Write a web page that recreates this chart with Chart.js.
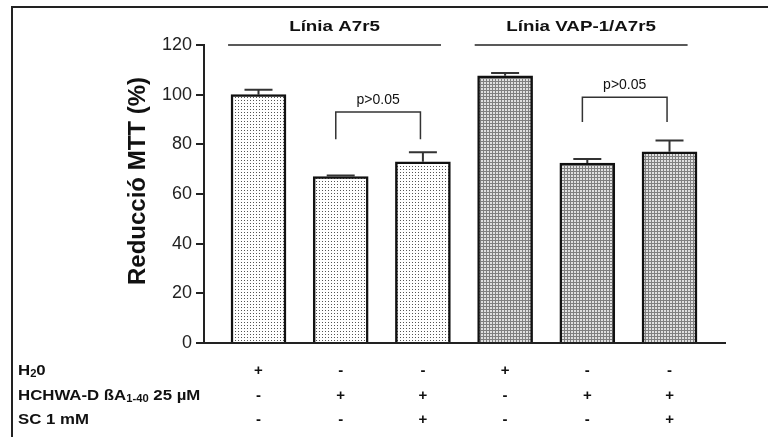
<!DOCTYPE html>
<html lang="ca">
<head>
<meta charset="UTF-8">
<title>Reducció MTT</title>
<script src="https://cdn.jsdelivr.net/npm/chart.js@4.4.1/dist/chart.umd.min.js"></script>
<style>
  html, body { margin: 0; padding: 0; background: #fff; }
  #wrap { width: 768px; height: 437px; }
</style>
</head>
<body>
<div id="wrap"><canvas id="mtt"></canvas></div>
<script>
  // dades llegides del gràfic
  const groups = ['Línia A7r5', 'Línia VAP-1/A7r5'];
  const groupBars = [[0, 2], [3, 5]];
  const values = [100, 67, 73, 107.6, 72.5, 77];
  const errors = [2, 0.4, 3.8, 1.1, 1.6, 4.5];
  const rowH2O = ['+', '-', '-', '+', '-', '-'];
  const rowABeta = ['-', '+', '+', '-', '+', '+'];
  const rowSC = ['-', '-', '+', '-', '-', '+'];
  const yTicks = [0, 20, 40, 60, 80, 100, 120];
  const brackets = [
    { from: 1, to: 2, top: 93, leg: 82, text: 'p>0.05' },
    { from: 4, to: 5, top: 99, leg: 89, text: 'p>0.05' }
  ];

  const FONT = '"Liberation Sans", Arial, sans-serif';
  const canvas = document.getElementById('mtt');
  const ctx = canvas.getContext('2d');

  function makePattern(kind) {
    const c = document.createElement('canvas');
    c.width = 3; c.height = 3;
    const g = c.getContext('2d');
    if (kind === 'dots') {
      g.fillStyle = '#fff'; g.fillRect(0, 0, 3, 3);
      g.fillStyle = '#555'; g.fillRect(1, 1, 1, 1);
    } else {
      g.fillStyle = '#e0e0e0'; g.fillRect(0, 0, 3, 3);
      g.fillStyle = '#808080'; g.fillRect(0, 0, 3, 1); g.fillRect(0, 0, 1, 3);
    }
    return ctx.createPattern(c, 'repeat');
  }
  const dots = makePattern('dots');
  const grid = makePattern('grid');

  function drawParts(c, parts, x, y, sx) {
    c.save();
    c.translate(x, y);
    c.scale(sx, 1);
    let cx = 0;
    parts.forEach(p => {
      c.font = p.font;
      c.fillText(p.t, cx, p.dy || 0);
      cx += c.measureText(p.t).width;
    });
    c.restore();
  }

  const extras = {
    id: 'extras',
    beforeDraw(chart) {
      const c = chart.ctx;
      c.save();
      c.strokeStyle = '#222';
      c.lineWidth = 2;
      c.beginPath();
      c.moveTo(12, 437); c.lineTo(12, 7); c.lineTo(768, 7);
      c.stroke();
      c.restore();
    },
    afterDraw(chart) {
      const c = chart.ctx;
      const xs = chart.scales.x, ys = chart.scales.y;
      c.save();
      c.fillStyle = '#111';
      c.strokeStyle = '#333';
      c.textBaseline = 'middle';

      // error bars
      c.lineWidth = 2;
      values.forEach((v, i) => {
        const x = xs.getPixelForValue(i + 1);
        const yb = ys.getPixelForValue(v);
        const yt = ys.getPixelForValue(v + errors[i]);
        c.beginPath();
        c.moveTo(x, yb); c.lineTo(x, yt);
        c.moveTo(x - 14, yt); c.lineTo(x + 14, yt);
        c.stroke();
      });

      // brackets
      c.lineWidth = 1.5;
      c.textAlign = 'center';
      brackets.forEach(b => {
        const x1 = xs.getPixelForValue(b.from + 1 - 0.06);
        const x2 = xs.getPixelForValue(b.to + 1 - 0.03);
        const yt = ys.getPixelForValue(b.top);
        const yl = ys.getPixelForValue(b.leg);
        c.beginPath();
        c.moveTo(x1, yl); c.lineTo(x1, yt); c.lineTo(x2, yt); c.lineTo(x2, yl);
        c.stroke();
        c.font = '14px ' + FONT;
        c.fillText(b.text, (x1 + x2) / 2, yt - 12);
      });

      // group headers
      c.lineWidth = 1.5;
      c.strokeStyle = '#222';
      groups.forEach((g, k) => {
        const a = xs.getPixelForValue(groupBars[k][0] + 1 - 0.37);
        const b = xs.getPixelForValue(groupBars[k][1] + 1 + 0.22);
        const y = ys.getPixelForValue(120);
        c.beginPath(); c.moveTo(a, y); c.lineTo(b, y); c.stroke();
        c.save();
        c.translate((a + b) / 2, 27);
        c.scale(1.25, 1);
        c.font = 'bold 15px ' + FONT;
        c.fillText(g, 0, 0);
        c.restore();
      });

      // y title
      c.save();
      c.translate(138, 181);
      c.rotate(-Math.PI / 2);
      c.font = 'bold 24px ' + FONT;
      c.fillText('Reducció MTT (%)', 0, 0);
      c.restore();

      // condition table
      c.textAlign = 'left';
      const B = 'bold 15px ' + FONT, S = 'bold 10px ' + FONT;
      drawParts(c, [{ t: 'H', font: B }, { t: '2', font: S, dy: 3 }, { t: '0', font: B }], 18, 371, 1.12);
      drawParts(c, [{ t: 'HCHWA-D ßA', font: B }, { t: '1-40', font: S, dy: 3 }, { t: ' 25 µM', font: B }], 18, 396, 1.12);
      drawParts(c, [{ t: 'SC 1 mM', font: B }], 18, 420, 1.12);
      c.textAlign = 'center';
      c.font = 'bold 15px ' + FONT;
      [[rowH2O, 371], [rowABeta, 396], [rowSC, 420]].forEach(([row, y]) => {
        row.forEach((s, i) => c.fillText(s, xs.getPixelForValue(i + 1), y));
      });
      c.restore();
    }
  };

  new Chart(ctx, {
    type: 'bar',
    data: {
      datasets: [{
        data: values.map((v, i) => ({ x: i + 1, y: v })),
        backgroundColor: values.map((v, i) => i < 3 ? dots : grid),
        borderColor: '#111',
        borderWidth: 2.5,
        barThickness: 55
      }]
    },
    options: {
      responsive: true,
      maintainAspectRatio: false,
      animation: false,
      layout: { padding: { left: 0, top: 45, right: 43, bottom: 94 } },
      plugins: { legend: { display: false }, tooltip: { enabled: false } },
      scales: {
        x: {
          type: 'linear',
          offset: false,
          min: 0.337,
          max: 6.675,
          ticks: { display: false },
          grid: { display: false, drawTicks: false, offset: false },
          border: { display: true, color: '#222', width: 2 },
          afterFit: s => { s.height = 0; }
        },
        y: {
          min: 0,
          max: 120,
          afterBuildTicks: s => { s.ticks = yTicks.map(v => ({ value: v })); },
          ticks: { color: '#222', font: { family: FONT, size: 18 }, padding: 4 },
          grid: { drawOnChartArea: false, drawTicks: true, tickLength: 8, color: '#222', lineWidth: 2 },
          border: { display: true, color: '#222', width: 2 },
          afterFit: s => { s.width = 204; }
        }
      }
    },
    plugins: [extras]
  });
</script>
</body>
</html>
